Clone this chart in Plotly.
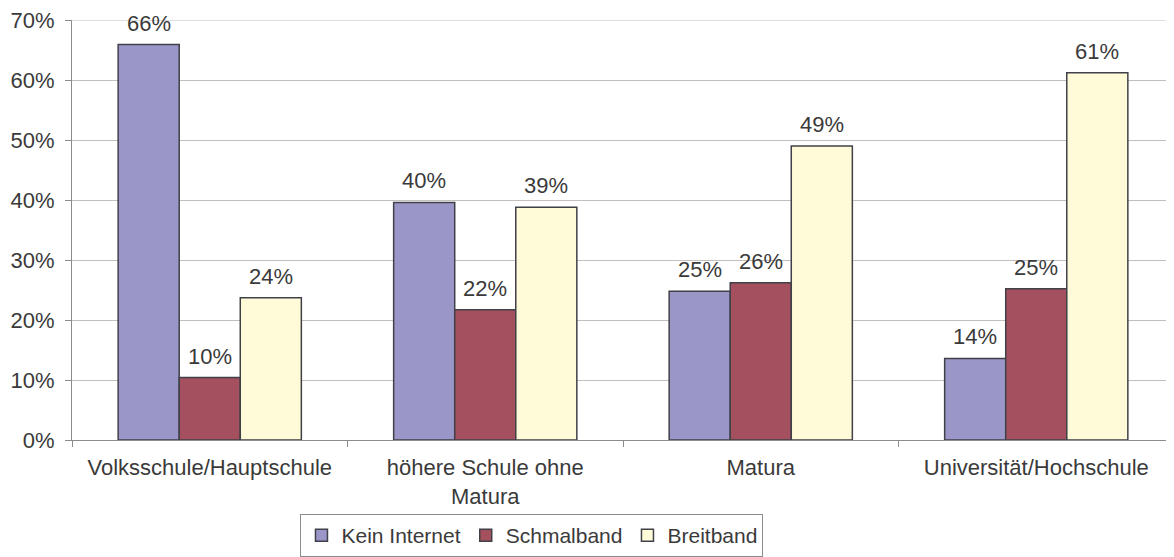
import plotly.graph_objects as go

categories = [
    "Volksschule/Hauptschule",
    "höhere Schule ohne<br>Matura",
    "Matura",
    "Universität/Hochschule",
]
kein_internet = [65.9, 39.6, 24.8, 13.6]
schmalband = [10.4, 21.7, 26.2, 25.2]
breitband = [23.7, 38.8, 49.0, 61.2]

y_ticks = [0, 10, 20, 30, 40, 50, 60, 70]
y_tick_labels = ["0%", "10%", "20%", "30%", "40%", "50%", "60%", "70%"]

series = [
    ("Kein Internet", kein_internet, "#9b96c8"),
    ("Schmalband", schmalband, "#a5505e"),
    ("Breitband", breitband, "#fffad7"),
]

font = "Liberation Sans, Arial, sans-serif"
text_color = "#3a3a3a"
grid_color = "#c4bebe"

# the page puts the figure 8px in from the top-left corner
W, H = 1166, 549
L, R, T, B = 64, 0, 12, 117
BARGAP = 0.335

fig = go.Figure()
for name, values, color in series:
    fig.add_trace(
        go.Bar(
            name=name,
            x=categories,
            y=values,
            marker=dict(color=color, line=dict(color="#404048", width=1.5)),
            cliponaxis=False,
        )
    )

# value labels, a little above each bar
cat_px = (W - L - R) / len(categories)
bar_px = cat_px * (1 - BARGAP) / len(series)
for i, (name, values, color) in enumerate(series):
    shift = (i - (len(series) - 1) / 2) * bar_px
    for cat, v in zip(categories, values):
        fig.add_annotation(
            x=cat,
            y=v,
            text=f"{v:.0f}%",
            showarrow=False,
            xshift=shift,
            yanchor="bottom",
            yshift=7,
            font=dict(size=22, color=text_color, family=font),
        )

# plotly leaves out the grid line at the very top of the range
fig.add_hline(y=y_ticks[-1], line=dict(color=grid_color, width=1), layer="below")

fig.update_layout(
    width=W,
    height=H,
    margin=dict(l=L, r=R, t=T, b=B),
    paper_bgcolor="white",
    plot_bgcolor="white",
    barmode="group",
    bargap=BARGAP,
    bargroupgap=0,
    font=dict(family=font, size=22, color=text_color),
    xaxis=dict(
        showline=True,
        linecolor="#8c8c8c",
        ticks="outside",
        tickson="boundaries",
        ticklen=6,
        tickcolor="#8c8c8c",
        showgrid=False,
        automargin=False,
        ticklabelstandoff=8,
    ),
    yaxis=dict(
        range=[0, 70],
        tickmode="array",
        tickvals=y_ticks,
        ticktext=y_tick_labels,
        showline=True,
        linecolor="#8c8c8c",
        ticks="outside",
        ticklen=6,
        tickcolor="#8c8c8c",
        gridcolor=grid_color,
        gridwidth=1,
        zeroline=False,
        automargin=False,
        ticklabelstandoff=6,
        ticklabeloverflow="allow",
    ),
    legend=dict(
        orientation="h",
        x=0.4174,
        xanchor="center",
        y=-B / (H - T - B),
        yanchor="bottom",
        bordercolor="#8c8c8c",
        borderwidth=1,
        bgcolor="white",
        font=dict(size=21, color=text_color),
        tracegroupgap=0,
    ),
    showlegend=True,
)

fig.write_html("out.html")
